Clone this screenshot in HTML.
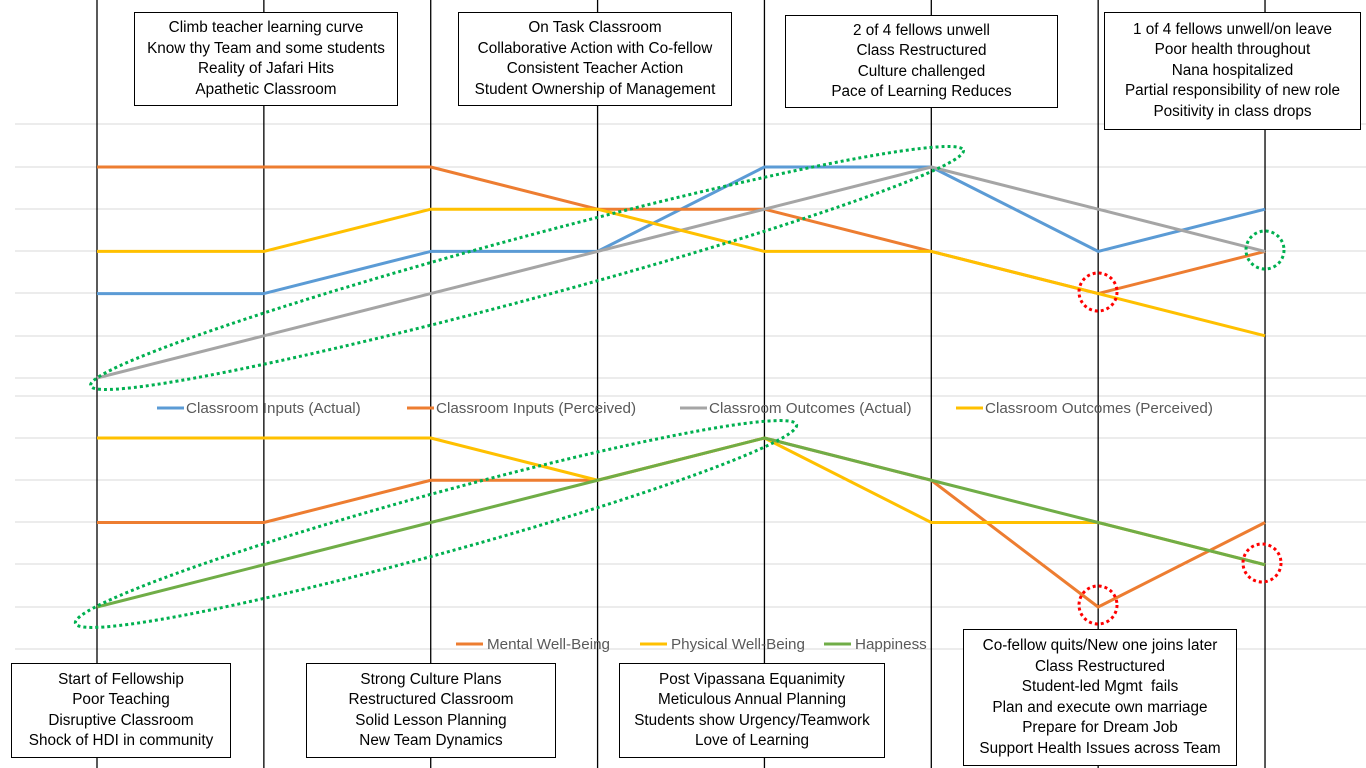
<!DOCTYPE html>
<html><head><meta charset="utf-8"><style>
body{margin:0;width:1366px;height:768px;background:#fff;position:relative;overflow:hidden;font-family:"Liberation Sans",sans-serif}
svg{position:absolute;left:0;top:0}
.box{position:absolute;background:#fff;border:1.3px solid #000;box-sizing:border-box;text-align:center;font-size:15.3px;line-height:20.5px;color:#000;display:flex;flex-direction:column;justify-content:center;white-space:nowrap}
.leg{position:absolute;font-size:15.2px;color:#595959;white-space:nowrap}
</style></head><body>
<svg id="chart" width="1366" height="768"></svg>
<div class="box" style="left:134px;top:12px;width:264px;height:94px">Climb teacher learning curve<br>Know thy Team and some students<br>Reality of Jafari Hits<br>Apathetic Classroom</div>
<div class="box" style="left:458px;top:12px;width:274px;height:94px">On Task Classroom<br>Collaborative Action with Co-fellow<br>Consistent Teacher Action<br>Student Ownership of Management</div>
<div class="box" style="left:785px;top:15px;width:273px;height:93px">2 of 4 fellows unwell<br>Class Restructured<br>Culture challenged<br>Pace of Learning Reduces</div>
<div class="box" style="left:1104px;top:12px;width:257px;height:118px">1 of 4 fellows unwell/on leave<br>Poor health throughout<br>Nana hospitalized<br>Partial responsibility of new role<br>Positivity in class drops</div>
<div class="box" style="left:11px;top:663px;width:220px;height:95px">Start of Fellowship<br>Poor Teaching<br>Disruptive Classroom<br>Shock of HDI in community</div>
<div class="box" style="left:306px;top:663px;width:250px;height:95px">Strong Culture Plans<br>Restructured Classroom<br>Solid Lesson Planning<br>New Team Dynamics</div>
<div class="box" style="left:619px;top:663px;width:266px;height:95px">Post Vipassana Equanimity<br>Meticulous Annual Planning<br>Students show Urgency/Teamwork<br>Love of Learning</div>
<div class="box" style="left:963px;top:629px;width:274px;height:137px">Co-fellow quits/New one joins later<br>Class Restructured<br>Student-led Mgmt&nbsp; fails<br>Plan and execute own marriage<br>Prepare for Dream Job<br>Support Health Issues across Team</div>
<script>
const stages=[1,2,3,4,5,6,7,8];
const inputsActual=[3,3,4,4,6,6,4,5];
const inputsPerceived=[6,6,6,5,5,4,3,4];
const outcomesActual=[1,2,3,4,5,6,5,4];
const outcomesPerceived=[4,4,5,5,4,4,3,2];
const mentalWellBeing=[3,3,4,4,5,4,1,3];
const physicalWellBeing=[5,5,5,4,5,3,3,2];
const happiness=[1,2,3,4,5,4,3,2];
const topSeriesNames=["Classroom Inputs (Actual)","Classroom Inputs (Perceived)","Classroom Outcomes (Actual)","Classroom Outcomes (Perceived)"];
const bottomSeriesNames=["Mental Well-Being","Physical Well-Being","Happiness"];

const NS="http://www.w3.org/2000/svg";
const svg=document.getElementById('chart');
function mk(t,a){const e=document.createElementNS(NS,t);for(const k in a)e.setAttribute(k,a[k]);svg.appendChild(e);return e;}
const xs=i=>97+(i-1)*166.86;
const yTop=v=>378-(v-1)*42.2;
const yBot=v=>607-(v-1)*42.25;

[124,167,209,251,293,336,378,396,438,480,522,564,607,649].forEach(y=>{
 const g=mk('line',{x1:15,x2:1366,y1:y,y2:y,stroke:'#d9d9d9','stroke-width':1});
 
 
});
stages.forEach(s=>{
 const l=mk('line',{x1:xs(s),x2:xs(s),y1:0,y2:768,stroke:'#000','stroke-width':1.3});
 
 
});
function series(vals,yf,color,name){
 const p=mk('polyline',{points:vals.map((v,i)=>xs(stages[i])+','+yf(v)).join(' '),fill:'none',stroke:color,'stroke-width':3,'stroke-linejoin':'round'});
 
 
}
series(inputsActual,yTop,'#5b9bd5','series-inputs-actual');
series(inputsPerceived,yTop,'#ed7d31','series-inputs-perceived');
series(outcomesActual,yTop,'#a5a5a5','series-outcomes-actual');
series(outcomesPerceived,yTop,'#ffc000','series-outcomes-perceived');
series(mentalWellBeing,yBot,'#ed7d31','series-mental-wellbeing');
series(physicalWellBeing,yBot,'#ffc000','series-physical-wellbeing');
series(happiness,yBot,'#70ad47','series-happiness');

const e1=mk('ellipse',{cx:527,cy:268,rx:452,ry:31,transform:'rotate(-15.1 527 268)',fill:'none',stroke:'#00b050','stroke-width':3,'stroke-dasharray':'3 3'});


const e2=mk('ellipse',{cx:436,cy:524,rx:374,ry:30,transform:'rotate(-15.4 436 524)',fill:'none',stroke:'#00b050','stroke-width':3,'stroke-dasharray':'3 3'});


[[1098,292,'#ff0000'],[1262,563,'#ff0000'],[1098,605,'#ff0000'],[1265,250,'#00b050']].forEach(c=>{
 const ci=mk('circle',{cx:c[0],cy:c[1],r:19,fill:'none',stroke:c[2],'stroke-width':3,'stroke-dasharray':'3 3'});
 
 
});
const topLeg=[[157,'#5b9bd5'],[407,'#ed7d31'],[680,'#a5a5a5'],[956,'#ffc000']];
topLeg.forEach((l,i)=>{
 const ln=mk('line',{x1:l[0],x2:l[0]+27,y1:408,y2:408,stroke:l[1],'stroke-width':3});
 
 
 const d=document.createElement('div');d.className='leg';d.style.left=(l[0]+29)+'px';d.style.top='400px';d.textContent=topSeriesNames[i];
 
 
 document.body.appendChild(d);
});
const botLeg=[[456,'#ed7d31'],[640,'#ffc000'],[824,'#70ad47']];
botLeg.forEach((l,i)=>{
 const ln=mk('line',{x1:l[0],x2:l[0]+27,y1:644,y2:644,stroke:l[1],'stroke-width':3});
 
 
 const d=document.createElement('div');d.className='leg';d.style.left=(l[0]+31)+'px';d.style.top='636px';d.textContent=bottomSeriesNames[i];
 
 
 document.body.appendChild(d);
});
</script>
</body></html>
